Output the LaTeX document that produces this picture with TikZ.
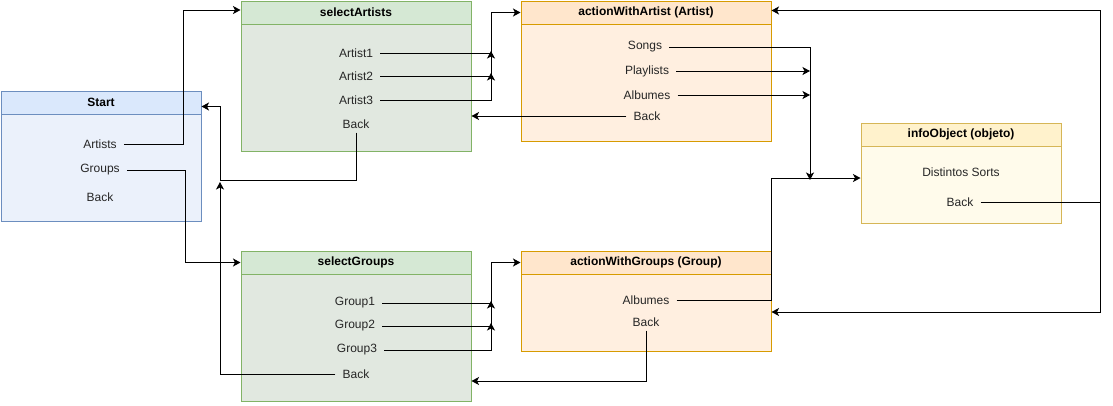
\documentclass[tikz,border=0pt]{standalone}
\usepackage{fontspec}
\setmainfont{Liberation Sans}
\usetikzlibrary{arrows.meta,calc}
\definecolor{blueH}{HTML}{DAE8FC}
\definecolor{blueB}{HTML}{EBF1FB}
\definecolor{blueD}{HTML}{6C8EBF}
\definecolor{greenH}{HTML}{D5E8D4}
\definecolor{greenB}{HTML}{E1E8E0}
\definecolor{greenD}{HTML}{82B366}
\definecolor{orH}{HTML}{FFE6CC}
\definecolor{orB}{HTML}{FFEFE0}
\definecolor{orD}{HTML}{D79B00}
\definecolor{yeH}{HTML}{FFF2CC}
\definecolor{yeB}{HTML}{FFFBEB}
\definecolor{yeD}{HTML}{D6B656}
\begin{document}
\begin{tikzpicture}[x=1pt,y=-1pt,
  lane/.style={draw, line width=1pt, inner sep=0pt, anchor=north west},
  hdr/.style={draw, line width=1pt, inner sep=0pt, anchor=north west, minimum height=23pt, font=\fontsize{12}{14}\selectfont\bfseries},
  item/.style={inner xsep=7pt, inner ysep=4pt, font=\fontsize{12}{14}\selectfont, text=black!85},
  conn/.style={line width=1pt, draw=black},
  arr/.style={conn, -{Stealth[length=7.5pt,width=8pt,inset=2pt]}}]
\useasboundingbox (0,0) rectangle (1113,405);
\fill[white] (0,0) rectangle (1113,405);

% lanes
\node[lane, draw=blueD, fill=blueB, minimum width=200pt, minimum height=130pt] (st) at (0.5,90.5) {};
\node[hdr, draw=blueD, fill=blueH, minimum width=200pt] (stH) at (0.5,90.5) {Start};
\node[lane, draw=greenD, fill=greenB, minimum width=230pt, minimum height=150pt] (sA) at (240.5,0.5) {};
\node[hdr, draw=greenD, fill=greenH, minimum width=230pt] (sAH) at (240.5,0.5) {selectArtists};
\node[lane, draw=orD, fill=orB, minimum width=250pt, minimum height=140pt] (aA) at (520.5,0.5) {};
\node[hdr, draw=orD, fill=orH, minimum width=250pt] (aAH) at (520.5,0.5) {actionWithArtist (Artist)};
\node[lane, draw=yeD, fill=yeB, minimum width=200pt, minimum height=100pt] (io) at (860.5,122.5) {};
\node[hdr, draw=yeD, fill=yeH, minimum width=200pt] (ioH) at (860.5,122.5) {infoObject (objeto)};
\node[lane, draw=greenD, fill=greenB, minimum width=230pt, minimum height=150pt] (sG) at (240.5,250.5) {};
\node[hdr, draw=greenD, fill=greenH, minimum width=230pt] (sGH) at (240.5,250.5) {selectGroups};
\node[lane, draw=orD, fill=orB, minimum width=250pt, minimum height=100pt] (aG) at (520.5,250.5) {};
\node[hdr, draw=orD, fill=orH, minimum width=250pt] (aGH) at (520.5,250.5) {actionWithGroups (Group)};

% items
\node[item] (stArt) at (100,144) {Artists};
\node[item] (stGrp) at (100,170) {Groups};
\node[item] (stBack) at (100,197) {Back};
\node[item] (a1) at (356,53) {Artist1};
\node[item] (a2) at (356,76) {Artist2};
\node[item] (a3) at (356,100) {Artist3};
\node[item] (sABack) at (356,124) {Back};
\node[item] (songs) at (645,47) {Songs};
\node[item] (plays) at (647,71) {Playlists};
\node[item] (albA) at (647,95) {Albumes};
\node[item] (aABack) at (647,116) {Back};
\node[item] (sorts) at (961,172) {Distintos Sorts};
\node[item] (ioBack) at (960,202) {Back};
\node[item] (g1) at (355,303) {Group1};
\node[item] (g2) at (355,326) {Group2};
\node[item] (g3) at (357,350) {Group3};
\node[item] (sGBack) at (356,374) {Back};
\node[item] (albG) at (646,300) {Albumes};
\node[item] (aGBack) at (646,322) {Back};

% helper coordinates
\coordinate (vA) at (183,0);
\coordinate (vG) at (185,0);
\coordinate (vB) at (220,0);
\coordinate (hB) at (0,180);
\coordinate (jB) at (220,182);
\coordinate (vS) at (491,0);
\coordinate (jA1) at (491,51);
\coordinate (jA2) at (491,73);
\coordinate (jG1) at (491,301);
\coordinate (jG2) at (491,323);
\coordinate (vR) at (810,0);
\coordinate (jS) at (810,180);
\coordinate (vG2) at (771,0);
\coordinate (hI) at (0,178);
\coordinate (vI) at (1100,0);
\coordinate (hR) at (0,312);
\coordinate (hGB) at (0,381);

% connectors
\draw[arr] (stArt.east) -- (stArt.east -| vA) |- ([yshift=2.5pt]sAH.west);
\draw[arr] (stGrp.east) -- (stGrp.east -| vG) |- (sGH.west);
\draw[arr] (sABack.south) |- (hB -| vB) |- ([yshift=-4pt]stH.east);
\draw[arr] (sGBack.west) -| (jB);
\draw[arr] (a1.east) -| (jA1);
\draw[arr] (a2.east) -| (jA2);
\draw[arr] (a3.east) -- (a3.east -| vS) |- (aAH.west);
\draw[arr] (g1.east) -| (jG1);
\draw[arr] (g2.east) -| (jG2);
\draw[arr] (g3.east) -- (g3.east -| vS) |- (aGH.west);
\draw[arr] (aABack.west) -- (aABack.west -| sA.east);
\draw[arr] (aGBack.south) |- (hGB -| sG.east);
\draw[arr] (songs.east) -| (jS);
\draw[arr] (plays.east) -- (plays.east -| vR);
\draw[arr] (albA.east) -- (albA.east -| vR);
\draw[arr] (albG.east) -- (albG.east -| vG2) |- (hI -| io.west);
\draw[arr] (ioBack.east) -- (ioBack.east -| vI) |- ([yshift=2pt]aAH.east);
\draw[arr] (ioBack.east -| vI) |- (hR -| aG.east);
\end{tikzpicture}
\end{document}
